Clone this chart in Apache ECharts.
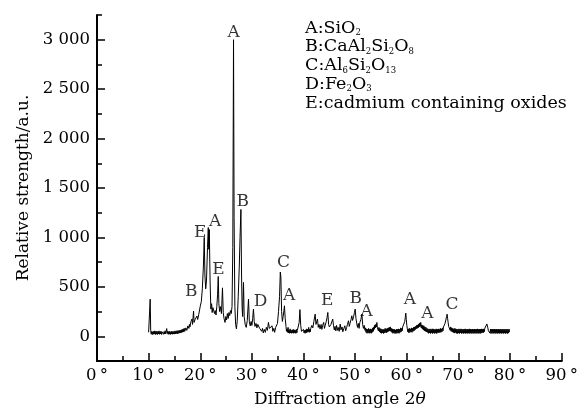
<!DOCTYPE html>
<html><head><meta charset="utf-8">
<script src="https://cdn.jsdelivr.net/npm/echarts@6/dist/echarts.min.js"></script>
<style>html,body{margin:0;padding:0;background:#fff}#c{width:581px;height:413px}</style>
</head><body><div id="c"></div>
<script>
// XRD pattern: [2θ (deg), relative strength]
const xrdPattern = [
[10.0,40],[10.15,35],[10.3,375],[10.4,60],
[10.5,22],[10.6,50],[10.7,18],[10.8,45],[10.9,20],[11.0,52],[11.1,25],[11.2,55],[11.3,18],[11.4,48],[11.5,22],[11.6,52],[11.7,18],[11.8,46],[11.9,24],[12.0,55],[12.1,20],[12.2,48],[12.3,23],[12.4,50],[12.5,18],[12.6,45],[12.7,25],[12.8,52],[12.9,20],[13.0,48],[13.1,23],[13.2,55],[13.3,25],[13.4,50],[13.5,78],[13.6,28],[13.7,52],[13.8,20],[13.9,47],[14.0,22],[14.1,50],[14.2,18],[14.3,45],[14.4,23],[14.5,52],[14.6,20],[14.7,46],[14.8,24],[14.9,50],[15.0,22],[15.1,55],[15.2,25],[15.3,50],[15.4,28],[15.5,58],[15.6,26],[15.7,55],[15.8,30],[15.9,60],[16.0,32],[16.1,62],[16.2,35],[16.3,65],[16.4,38],[16.5,70],[16.6,42],[16.7,75],[16.8,45],[16.9,80],[17.0,50],
[17.2,85],[17.4,60],[17.6,105],[17.8,80],[17.9,120],[18.0,95],[18.2,150],[18.4,175],[18.5,120],[18.7,255],[18.8,140],[19.0,170],[19.2,150],[19.35,205],[19.5,170],[19.7,220],[19.85,200],[20.0,305],[20.2,350],[20.4,480],[20.6,700],[20.77,1000],[20.9,620],[21.05,480],[21.2,560],[21.4,900],[21.55,1100],[21.65,880],[21.75,1080],[21.9,560],[22.05,275],[22.2,330],[22.3,240],[22.45,290],[22.6,305],[22.75,230],[22.9,260],[23.05,215],[23.2,300],[23.35,420],[23.48,605],[23.6,330],[23.75,250],[23.9,300],[24.1,230],[24.3,490],[24.45,240],[24.6,180],[24.8,140],[24.95,200],[25.1,165],[25.25,230],[25.4,180],[25.55,240],[25.7,210],[25.85,260],[26.0,230],[26.15,300],[26.3,900],[26.44,3000],[26.55,1200],[26.7,300],[26.85,120],[27.0,75],[27.15,150],[27.35,400],[27.55,700],[27.7,1000],[27.87,1283],[28.0,600],[28.1,300],[28.2,200],[28.37,545],[28.5,200],[28.7,120],[28.9,90],[29.1,160],[29.34,375],[29.5,150],[29.67,105],[29.85,150],[30.0,110],[30.15,180],[30.3,275],[30.45,150],[30.6,100],[30.8,130],[30.97,85],[31.15,120],[31.3,140],[31.5,80],[31.7,95],[31.9,50],[32.05,80],[32.2,35],[32.4,70],[32.6,40],[32.8,90],[33.0,60],[33.2,140],[33.4,80],[33.6,100],[33.75,60],[33.9,106],[34.05,50],[34.25,80],[34.4,40],[34.6,90],[34.8,106],[34.95,130],[35.15,250],[35.35,400],[35.5,650],[35.61,600],[35.75,250],[35.9,150],[36.05,200],[36.2,260],[36.3,308],[36.45,180],[36.6,100],[36.7,50],[36.8,75],[36.9,40],[37.0,90],[37.1,35],[37.2,65],[37.3,30],[37.4,75],[37.5,35],[37.6,60],[37.7,30],[37.8,65],[37.9,35],[38.0,70],[38.1,30],[38.2,65],[38.3,35],[38.4,60],[38.5,30],[38.6,70],[38.7,35],[38.8,60],[38.9,45],[39.0,80],[39.15,140],[39.3,270],[39.45,110],[39.6,50],[39.7,35],[39.8,65],[39.9,30],[40.0,70],[40.1,35],[40.2,60],[40.3,30],[40.4,65],[40.5,35],[40.6,75],[40.7,40],[40.8,70],[40.9,45],[41.0,90],[41.1,40],[41.2,70],[41.3,45],[41.4,80],[41.5,60],[41.6,110],[41.8,85],[42.0,150],[42.1,130],[42.25,224],[42.4,120],[42.55,110],[42.7,175],[42.85,90],[43.0,120],[43.2,75],[43.4,120],[43.55,70],[43.7,110],[43.9,140],[44.05,80],[44.2,110],[44.4,150],[44.55,190],[44.7,241],[44.85,120],[45.0,95],[45.15,75],[45.3,120],[45.5,100],[45.65,174],[45.8,110],[45.95,65],[46.1,100],[46.25,55],[46.4,110],[46.55,60],[46.7,90],[46.9,50],[47.1,123],[47.25,65],[47.45,95],[47.6,45],[47.8,80],[48.0,106],[48.15,55],[48.35,90],[48.5,120],[48.7,157],[48.85,100],[49.0,130],[49.2,170],[49.35,207],[49.5,160],[49.7,200],[49.85,240],[50.0,275],[50.15,180],[50.3,130],[50.45,90],[50.6,130],[50.75,80],[50.9,140],[51.1,170],[51.3,224],[51.45,120],[51.6,80],[51.75,110],[51.9,60],
[52.0,85],[52.1,40],[52.2,75],[52.3,30],[52.4,70],[52.5,35],[52.6,80],[52.7,30],[52.8,70],[52.9,35],[53.0,75],[53.1,30],[53.2,70],[53.3,40],[53.4,85],[53.5,50],[53.6,95],[53.7,70],[53.8,115],[53.9,85],[54.0,120],[54.1,95],[54.2,140],[54.3,85],[54.4,80],[54.5,55],[54.6,90],[54.7,45],[54.8,80],[54.9,35],[55.0,75],[55.1,30],[55.2,70],[55.3,35],[55.4,70],[55.5,28],[55.6,70],[55.7,35],[55.8,80],[55.9,40],[56.0,75],[56.1,35],[56.2,80],[56.3,45],[56.4,85],[56.5,50],[56.6,90],[56.7,55],[56.8,95],[56.9,50],[57.0,80],[57.1,40],[57.2,75],[57.3,30],[57.4,70],[57.5,35],[57.6,70],[57.7,28],[57.8,65],[57.9,30],[58.0,70],[58.1,30],[58.2,70],[58.3,35],[58.4,75],[58.5,30],[58.6,70],[58.7,40],[58.8,85],[58.9,45],[59.0,80],[59.1,55],[59.2,95],[59.3,75],[59.4,110],[59.5,100],[59.6,150],[59.7,190],[59.8,234],[59.9,170],[60.0,110],[60.1,75],[60.2,45],[60.3,75],[60.4,35],[60.5,80],[60.6,40],[60.7,75],[60.8,45],[60.9,85],[61.0,40],[61.1,80],[61.2,50],[61.3,90],[61.4,55],[61.5,95],[61.6,65],[61.7,100],[61.8,75],[61.9,110],[62.0,80],[62.1,115],[62.2,85],[62.3,125],[62.4,95],[62.5,135],[62.6,100],[62.7,140],[62.8,85],[62.9,115],[63.0,75],[63.1,110],[63.2,65],[63.3,106],[63.4,55],[63.5,95],[63.6,50],[63.7,90],[63.8,45],[63.9,80],[64.0,40],[64.1,75],[64.2,30],[64.3,70],[64.4,35],[64.5,75],[64.6,28],[64.7,70],[64.8,35],[64.9,75],[65.0,28],[65.1,75],[65.2,35],[65.3,70],[65.4,28],[65.5,70],[65.6,35],[65.7,75],[65.8,28],[65.9,70],[66.0,38],[66.1,75],[66.2,35],[66.3,70],[66.4,40],[66.5,80],[66.6,40],[66.7,75],[66.8,45],[66.9,85],[67.0,55],[67.1,95],[67.2,75],[67.3,110],[67.4,130],[67.5,150],[67.6,175],[67.7,200],[67.8,224],[67.9,180],[68.0,140],[68.1,100],[68.2,80],[68.3,100],[68.4,60],[68.5,95],[68.6,50],[68.7,85],[68.8,45],[68.9,80],[69.0,38],[69.1,75],[69.2,32],[69.3,80],[69.4,38],[69.5,75],[69.6,30],[69.7,72],[69.8,28],[69.9,70],[70.0,32],[70.1,75],[70.2,28],[70.3,72],[70.4,36],[70.5,75],[70.6,28],[70.7,70],[70.8,32],[70.9,72],[71.0,28],[71.1,72],[71.2,32],[71.3,75],[71.4,28],[71.5,70],[71.6,32],[71.7,72],[71.8,28],[71.9,70],[72.0,32],[72.1,75],[72.2,28],[72.3,72],[72.4,32],[72.5,70],[72.6,28],[72.7,72],[72.8,32],[72.9,70],[73.0,28],[73.1,72],[73.2,32],[73.3,70],[73.4,28],[73.5,72],[73.6,32],[73.7,75],[73.8,28],[73.9,70],[74.0,32],[74.1,72],[74.2,28],[74.3,72],[74.4,32],[74.5,75],[74.6,38],[74.7,72],[74.8,35],[74.9,75],[75.0,45],[75.1,80],[75.2,65],[75.3,100],[75.4,85],[75.5,125],[75.6,132],[75.7,85],[75.8,55],[75.9,45],[76.0,75],[76.1,32],[76.2,72],[76.3,28],[76.4,70],[76.5,32],[76.6,72],[76.7,28],[76.8,70],[76.9,32],[77.0,72],[77.1,28],[77.2,70],[77.3,32],[77.4,72],[77.5,28],[77.6,70],[77.7,32],[77.8,72],[77.9,28],[78.0,70],[78.1,32],[78.2,72],[78.3,28],[78.4,70],[78.5,32],[78.6,72],[78.7,28],[78.8,70],[78.9,32],[79.0,72],[79.1,28],[79.2,70],[79.3,32],[79.4,72],[79.5,28],[79.6,70],[79.7,32],[79.8,72],[79.9,45]
];

// phase letters and where they sit (in data units)
const peakLetters      = ['A','B','E','A','E','B','D','C','A','E','B','A','A','A','C'];
const peakLabelAngles  = [26.48,28.22,19.99,22.9,23.54,18.25,31.66,36.1,37.2,44.6,50.1,52.2,60.6,64.0,68.76];
const peakLabelHeights = [3077,1367,1048,1165,670,456,347,749,416,358,383,252,373,227,325];

const phaseLegend = ['A:SiO_2','B:CaAl_2Si_2O_8','C:Al_6Si_2O_13','D:Fe_2O_3','E:cadmium containing oxides'];

const yMajorTicks = [0,500,1000,1500,2000,2500,3000];
const yMinorTicks = [250,750,1250,1750,2250,2750,3250];
const xAxisTitle = 'Diffraction angle 2{i|θ}';
const yAxisTitle = 'Relative strength/a.u.';

const F = '"DejaVu Serif", serif';

function toRich(s) {
  return ('{m|' + s.replace(/_(\d+)/g, '}{s|$1}{m|') + '}').replace(/\{m\|\}/g, '');
}
const legendText = phaseLegend.map(toRich).join('\n');

function fmtThousands(v) {
  const s = String(v);
  return s.length > 3 ? s.slice(0, s.length - 3) + ' ' + s.slice(-3) : s;
}

const chart = echarts.init(document.getElementById('c'), null, {renderer: 'canvas'});
const option = {
  animation: false,
  backgroundColor: '#fff',
  grid: {left: 97, right: 19, top: 15, bottom: 51},
  xAxis: {
    type: 'value', min: 0, max: 90, interval: 10,
    axisLine: {show: true, onZero: false, lineStyle: {color: '#000', width: 2}},
    axisTick: {show: true, inside: true, length: 8, lineStyle: {color: '#000', width: 1.5}},
    minorTick: {show: true, splitNumber: 2, length: 5, lineStyle: {color: '#000', width: 1.5}},
    splitLine: {show: false}, minorSplitLine: {show: false},
    axisLabel: {formatter: v => v + '\u2009°', fontFamily: F, fontSize: 16.5, color: '#000', margin: 6},
    name: xAxisTitle, nameLocation: 'middle', nameGap: 30,
    nameTextStyle: {fontFamily: F, fontSize: 17, color: '#000', padding: [0, 0, 0, 21],
      rich: {i: {fontStyle: 'italic', fontFamily: F, fontSize: 17, color: '#000'}}}
  },
  yAxis: [{
    type: 'value', min: -250, max: 3250, interval: 250, position: 'left',
    axisLine: {show: true, lineStyle: {color: '#000', width: 2}},
    axisTick: {show: true, inside: true, length: 8, customValues: yMajorTicks, lineStyle: {color: '#000', width: 1.5}},
    axisLabel: {customValues: yMajorTicks, formatter: fmtThousands, fontFamily: F, fontSize: 16.5, color: '#000', margin: 7},
    splitLine: {show: false},
    name: yAxisTitle, nameLocation: 'middle', nameGap: 64, nameRotate: 90,
    nameTextStyle: {fontFamily: F, fontSize: 17, color: '#000'}
  }, {
    type: 'value', min: -250, max: 3250, interval: 250, position: 'left', offset: 0,
    axisLine: {show: false},
    axisTick: {show: true, inside: true, length: 5, customValues: yMinorTicks, lineStyle: {color: '#000', width: 1.5}},
    axisLabel: {show: false},
    splitLine: {show: false}
  }],
  series: [{
    type: 'line', xAxisIndex: 0, yAxisIndex: 0,
    data: xrdPattern, showSymbol: false, symbol: 'none',
    lineStyle: {color: '#000', width: 1}, silent: true, z: 3
  }, {
    type: 'scatter', xAxisIndex: 0, yAxisIndex: 0,
    data: peakLetters.map((l, i) => ({name: l, value: [peakLabelAngles[i], peakLabelHeights[i]]})),
    symbol: 'circle', symbolSize: 1, itemStyle: {color: 'rgba(0,0,0,0)'},
    label: {show: true, position: 'inside', formatter: '{b}', color: '#000', fontFamily: F, fontSize: 17},
    silent: true, z: 4
  }],
  graphic: [{
    type: 'text', left: 305, top: 19,
    style: {
      text: legendText, fill: '#000',
      rich: {
        m: {fontFamily: F, fontSize: 17.5, lineHeight: 18.75, fill: '#000'},
        s: {fontFamily: F, fontSize: 8.5, lineHeight: 4, verticalAlign: 'bottom', fill: '#000'}
      }
    }
  }]
};
chart.setOption(option);
</script>
</body></html>
